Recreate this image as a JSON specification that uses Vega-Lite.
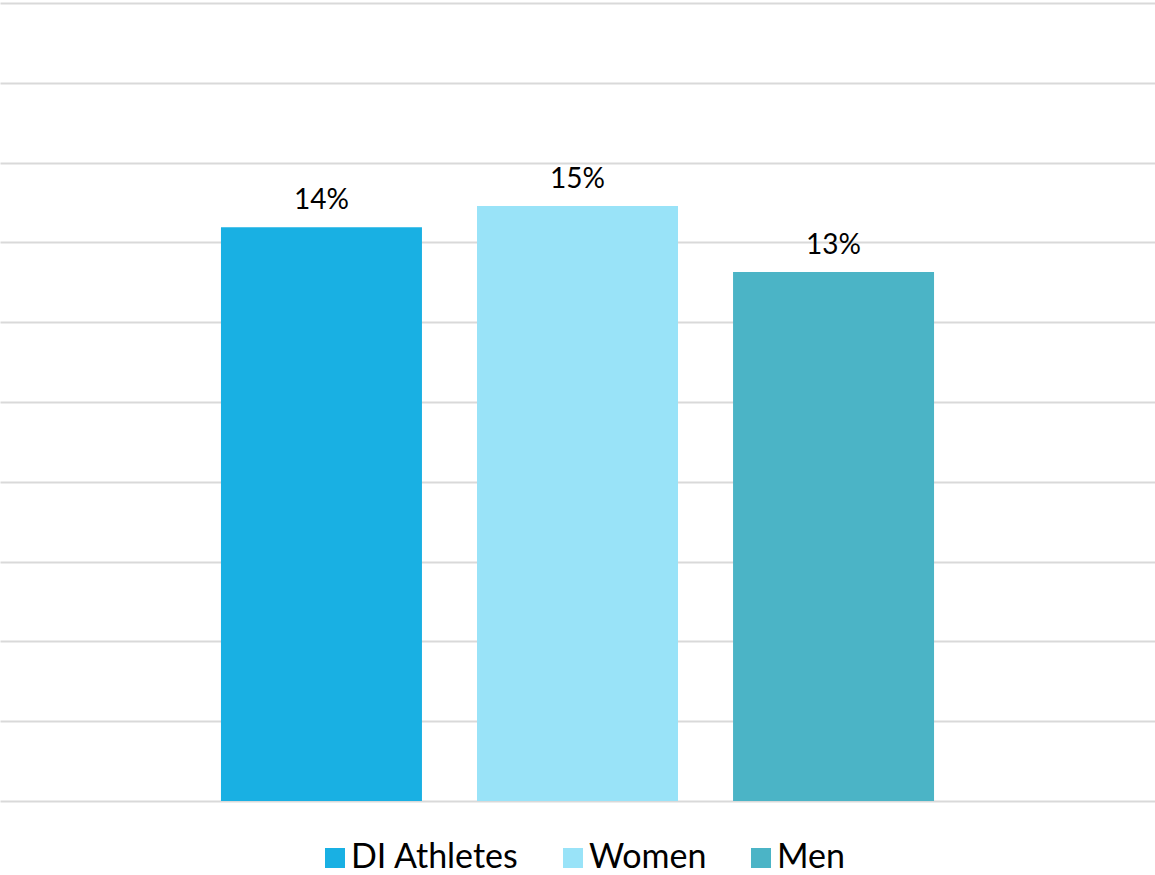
{
  "$schema": "https://vega.github.io/schema/vega-lite/v6.json",
  "width": 1155,
  "height": 798,
  "autosize": {"type": "none"},
  "padding": {"top": 3, "left": 0, "right": 0, "bottom": 74},
  "background": "white",
  "config": {
    "view": {"stroke": null},
    "font": "Lato"
  },
  "data": {
    "values": [
      {"group": "DI Athletes", "value": 0.1438},
      {"group": "Women", "value": 0.1491},
      {"group": "Men", "value": 0.1326}
    ]
  },
  "encoding": {
    "x": {
      "field": "group",
      "type": "nominal",
      "sort": ["DI Athletes", "Women", "Men"],
      "axis": null,
      "scale": {"paddingInner": 0.215, "paddingOuter": 0.863}
    },
    "y": {
      "field": "value",
      "type": "quantitative",
      "scale": {"domain": [0, 0.2], "nice": false},
      "axis": {
        "values": [0, 0.02, 0.04, 0.06, 0.08, 0.1, 0.12, 0.14, 0.16, 0.18, 0.2],
        "labels": false,
        "ticks": false,
        "domain": false,
        "title": null,
        "grid": true,
        "gridColor": "#d9d9d9",
        "gridWidth": 2
      }
    }
  },
  "layer": [
    {
      "mark": {"type": "bar"},
      "encoding": {
        "color": {
          "field": "group",
          "type": "nominal",
          "sort": ["DI Athletes", "Women", "Men"],
          "scale": {
            "domain": ["DI Athletes", "Women", "Men"],
            "range": ["#19b0e3", "#99e3f8", "#4bb4c6"]
          },
          "legend": {
            "orient": "none",
            "legendX": 318,
            "legendY": 838,
            "direction": "horizontal",
            "title": null,
            "symbolType": "square",
            "symbolSize": 400,
            "symbolStrokeWidth": 0,
            "labelFontSize": 34,
            "labelFont": "Lato",
            "labelColor": "#000000",
            "labelOffset": -1,
            "columnPadding": 37,
            "padding": 0,
            "labelLimit": 400
          }
        }
      }
    },
    {
      "mark": {
        "type": "text",
        "baseline": "alphabetic",
        "dy": -18,
        "fontSize": 28,
        "color": "#000000",
        "font": "Lato"
      },
      "encoding": {
        "text": {"field": "value", "type": "quantitative", "format": ".0%"}
      }
    }
  ]
}
